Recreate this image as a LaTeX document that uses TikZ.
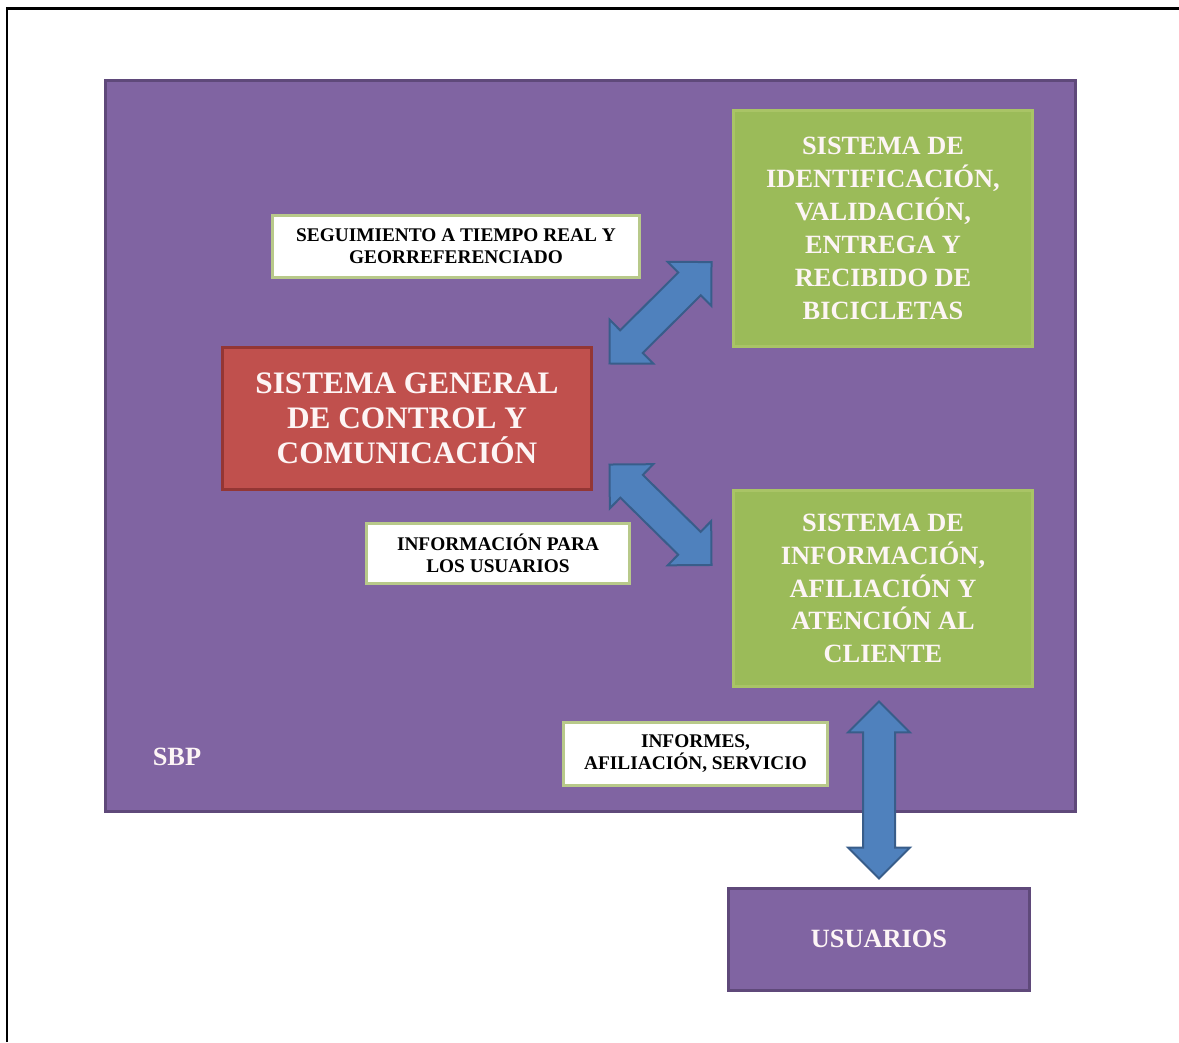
\documentclass[tikz,border=0pt]{standalone}
\usepackage{fontspec}
\setmainfont{Liberation Serif}
\usetikzlibrary{shapes.arrows,calc,positioning}

\definecolor{sbpfill}{HTML}{8064A2}
\definecolor{sbpline}{HTML}{5F497A}
\definecolor{grfill}{HTML}{9BBB59}
\definecolor{grline}{HTML}{A9C466}
\definecolor{redfill}{HTML}{C0504D}
\definecolor{redline}{HTML}{943634}
\definecolor{tagline}{HTML}{B8C98A}
\definecolor{arrfill}{HTML}{4F81BD}
\definecolor{arrline}{HTML}{385D8A}
\definecolor{boxtext}{HTML}{FDF5F5}

\begin{document}
\begin{tikzpicture}[
  x=0.02cm, y=-0.02cm,
  box/.style={draw, line width=0.06cm, align=center, inner sep=0pt},
  sysbox/.style={box, fill=grfill, draw=grline, text=boxtext, minimum width=6cm,
    font=\fontsize{15}{18.7}\selectfont\bfseries},
  tag/.style={box, fill=white, draw=tagline, text=black,
    font=\fontsize{11}{12.5}\selectfont\bfseries},
  dblarr/.style={double arrow, draw=arrline, fill=arrfill, line width=0.04cm,
    double arrow head extend=0.3cm, inner sep=0.3cm, minimum width=0.6cm}
]
  \useasboundingbox (0,0) rectangle (1179,1042);
  % frame of the page
  \draw[line width=0.06cm] (7,1042) -- (7,8) -- (1179,8);

  \node[box, fill=sbpfill, draw=sbpline, minimum width=19.42cm, minimum height=14.64cm] (sbp) at (590.5,446) {};
  \node[text=boxtext, font=\fontsize{15}{18}\selectfont\bfseries] (sbplbl) at (177,757) {SBP};

  \node[box, fill=redfill, draw=redline, text=boxtext, minimum width=7.4cm, minimum height=2.86cm,
    font=\fontsize{17.8}{20}\selectfont\bfseries] (ctrl) at (407,418.5)
    {SISTEMA GENERAL\\DE CONTROL Y\\COMUNICACIÓN};
  \node[sysbox, minimum height=4.74cm] (ident) at (883,228.5)
    {SISTEMA DE\\IDENTIFICACIÓN,\\VALIDACIÓN,\\ENTREGA Y\\RECIBIDO DE\\BICICLETAS};
  \node[sysbox, minimum height=3.94cm] (info) at (883,588.5)
    {SISTEMA DE\\INFORMACIÓN,\\AFILIACIÓN Y\\ATENCIÓN AL\\CLIENTE};

  \node[tag, minimum width=7.36cm, minimum height=1.24cm] (track) at (456,246)
    {SEGUIMIENTO A TIEMPO REAL Y\\GEORREFERENCIADO};
  \node[tag, minimum width=5.28cm, minimum height=1.2cm] (usrinfo) at (498,553)
    {INFORMACIÓN PARA\\LOS USUARIOS};
  \node[tag, minimum width=5.3cm, minimum height=1.26cm] (reports) at (695.5,753.5)
    {INFORMES,\\AFILIACIÓN, SERVICIO};

  \node[box, fill=sbpfill, draw=sbpline, text=boxtext, minimum width=6.04cm, minimum height=2.04cm,
    font=\fontsize{15}{18}\selectfont\bfseries] (users) at (879,939) {USUARIOS};

  % tips of the block arrows
  \coordinate (a1s) at ($(ctrl.north east)+(16,18)$);
  \coordinate (a1e) at ($(ident.west)+(-20,33.5)$);
  \coordinate (a2s) at ($(ctrl.south east)+(16,-27)$);
  \coordinate (a2e) at ($(info.west)+(-20,-23.5)$);
  \coordinate (a3s) at ($(info.south)+(-4,13)$);
  \coordinate (a3e) at ($(users.north)+(0,-8)$);

  \path let \p1=($(a1e)-(a1s)$) in (a1s) -- (a1e)
    node[midway, sloped, dblarr, minimum height={veclen(\x1,\y1)}] (arr1) {};
  \path let \p1=($(a2e)-(a2s)$) in (a2s) -- (a2e)
    node[midway, sloped, dblarr, minimum height={veclen(\x1,\y1)}] (arr2) {};
  \path let \p1=($(a3e)-(a3s)$) in (a3s) -- (a3e)
    node[midway, sloped, dblarr, minimum height={veclen(\x1,\y1)}] (arr3) {};
\end{tikzpicture}
\end{document}
